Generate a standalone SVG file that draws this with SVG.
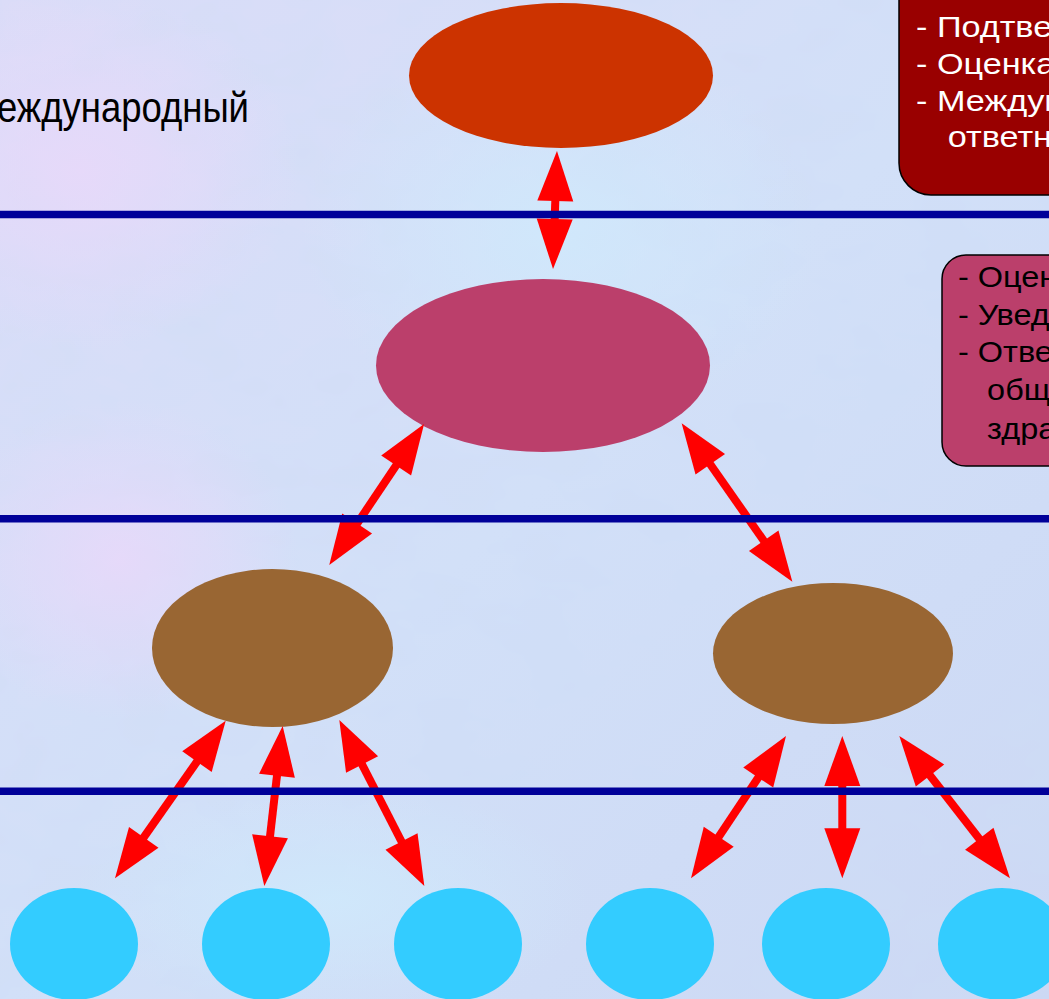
<svg xmlns="http://www.w3.org/2000/svg" width="1049" height="999" viewBox="0 0 1049 999">
<defs>
<style>
.top{fill:#CC3300}
.mid{fill:#BB3F6B}
.brown{fill:#996633}
.leaf{fill:#33CCFF}
.conn line{stroke:#FF0000;stroke-width:8;marker-start:url(#head);marker-end:url(#head)}
.sep line{stroke:#000099;stroke-width:7.5}
.t{font-family:"Liberation Sans",Arial,sans-serif;font-size:28px}
.t2{font-family:"Liberation Sans",Arial,sans-serif;font-size:29px}
.w{fill:#FFFFFF}
.k{fill:#000000}
</style>
<marker id="head" markerUnits="strokeWidth" markerWidth="6.25" markerHeight="4.5" refX="3.75" refY="2.25" orient="auto-start-reverse" overflow="visible">
<path d="M0,0 L6.25,2.25 L0,4.5 Z" fill="#FF0000"/>
</marker>
<linearGradient id="bg" x1="0" y1="0" x2="1" y2="1">
<stop offset="0" stop-color="#dcdcf8"/>
<stop offset="0.5" stop-color="#d2e0f8"/>
<stop offset="1" stop-color="#ccd8f4"/>
</linearGradient>
<radialGradient id="pink" cx="0.5" cy="0.5" r="0.5">
<stop offset="0" stop-color="#ead8fa" stop-opacity="0.8"/>
<stop offset="1" stop-color="#ead8fa" stop-opacity="0"/>
</radialGradient>
<radialGradient id="cyan" cx="0.5" cy="0.5" r="0.5">
<stop offset="0" stop-color="#cfeafc" stop-opacity="0.8"/>
<stop offset="1" stop-color="#cfeafc" stop-opacity="0"/>
</radialGradient>
<filter id="mottle" x="0" y="0" width="100%" height="100%">
<feTurbulence type="fractalNoise" baseFrequency="0.012 0.02" numOctaves="3" seed="4"/>
<feColorMatrix type="matrix" values="0 0 0 0 0.62  0 0 0 0 0.72  0 0 0 0 0.92  0 0 0 0.7 -0.2"/>
</filter>
</defs>

<g id="background">
<rect x="0" y="0" width="1049" height="999" fill="url(#bg)"/>
<rect x="0" y="0" width="1049" height="999" filter="url(#mottle)"/>
<ellipse cx="80" cy="170" rx="220" ry="180" fill="url(#pink)"/>
<ellipse cx="120" cy="560" rx="180" ry="160" fill="url(#pink)"/>
<ellipse cx="560" cy="230" rx="260" ry="200" fill="url(#cyan)"/>
<ellipse cx="330" cy="900" rx="260" ry="120" fill="url(#cyan)"/>
</g>

<g id="node-top"><ellipse class="top" cx="561" cy="75.5" rx="152" ry="72.5"/></g>
<g id="node-mid"><ellipse class="mid" cx="543" cy="365.5" rx="167" ry="86.5"/></g>
<g id="node-left"><ellipse class="brown" cx="272.5" cy="648" rx="120.5" ry="79"/></g>
<g id="node-right"><ellipse class="brown" cx="833" cy="653.5" rx="120" ry="70.5"/></g>
<g id="leaf-1"><ellipse class="leaf" cx="74" cy="944" rx="64" ry="56"/></g>
<g id="leaf-2"><ellipse class="leaf" cx="266" cy="944" rx="64" ry="56"/></g>
<g id="leaf-3"><ellipse class="leaf" cx="458" cy="944" rx="64" ry="56"/></g>
<g id="leaf-4"><ellipse class="leaf" cx="650" cy="944" rx="64" ry="56"/></g>
<g id="leaf-5"><ellipse class="leaf" cx="826" cy="944" rx="64" ry="56"/></g>
<g id="leaf-6"><ellipse class="leaf" cx="1002" cy="944" rx="64" ry="56"/></g>

<g id="connectors" class="conn">
<line x1="556.3" y1="171" x2="553.7" y2="249"/>
<line x1="412.9" y1="440.6" x2="340.4" y2="548.4"/>
<line x1="693.1" y1="439.7" x2="780.9" y2="565.3"/>
<line x1="214.2" y1="737.1" x2="126.5" y2="861.9"/>
<line x1="280.4" y1="745.9" x2="266.6" y2="866.1"/>
<line x1="348.4" y1="737.8" x2="415.2" y2="868.2"/>
<line x1="774.9" y1="752.6" x2="702.1" y2="861.7"/>
<line x1="842.3" y1="756" x2="842.3" y2="858.3"/>
<line x1="911.6" y1="751.8" x2="997.7" y2="862.5"/>
</g>

<g id="separators" class="sep">
<line x1="0" y1="214.5" x2="1049" y2="214.5"/>
<line x1="0" y1="518.8" x2="1049" y2="518.8"/>
<line x1="0" y1="791.2" x2="1049" y2="791.2"/>
</g>

<g id="label-level">
<text x="-3" y="122" font-family="Liberation Sans, Arial, sans-serif" font-size="43" fill="#000000" textLength="252" lengthAdjust="spacingAndGlyphs">еждународный</text>
</g>

<g id="box-top">
<rect x="899" y="-40" width="200" height="235" rx="32" ry="32" fill="#990000" stroke="#000000" stroke-width="1.5"/>
<g transform="translate(916,0) scale(1.18,1)">
<text class="t2 w" x="0" y="37">- Подтве</text>
<text class="t2 w" x="0" y="74">- Оценка</text>
<text class="t2 w" x="0" y="111">- Междун</text>
<text class="t2 w" x="27" y="147">ответн</text>
</g>
</g>

<g id="box-mid">
<rect x="942" y="255" width="150" height="211" rx="24" ry="24" fill="#BB3F6B" stroke="#000000" stroke-width="1.5"/>
<g transform="translate(958,0) scale(1.12,1)">
<text class="t2 k" x="0" y="287">- Оцен</text>
<text class="t2 k" x="0" y="325">- Увед</text>
<text class="t2 k" x="0" y="362">- Отве</text>
<text class="t2 k" x="26" y="400">общ</text>
<text class="t2 k" x="26" y="439">здра</text>
</g>
</g>
</svg>
